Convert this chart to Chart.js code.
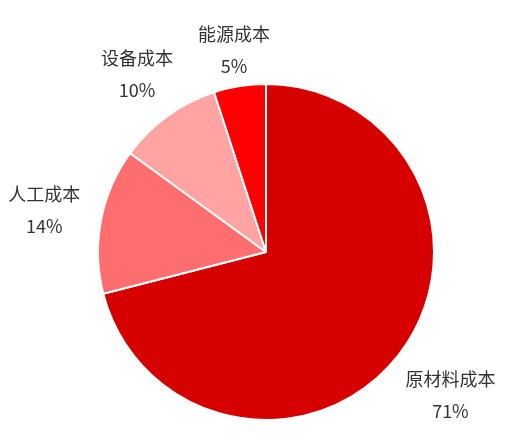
<!DOCTYPE html>
<html>
<head>
<meta charset="utf-8">
<script src="https://cdn.jsdelivr.net/npm/chart.js@4/dist/chart.umd.min.js"></script>
<style>
  html, body { margin: 0; padding: 0; background: #ffffff; }
  #wrap { width: 513px; height: 448px; position: relative; }
</style>
</head>
<body>
<div id="wrap"><canvas id="c" width="513" height="448"></canvas></div>
<script>
// Cost structure shares (%)
const categories = ['原材料成本', '人工成本', '设备成本', '能源成本'];
const shares = [71, 14, 10, 5];
const sliceColors = ['#d70000', '#ff6e6e', '#ffa3a3', '#ff0000'];

const FONT = '"Noto Sans CJK SC", "Noto Sans", sans-serif';
const FONT_SIZE = 18;
const LINE_GAP = 32;
const LABEL_GAP = 12;

// Two-line outside labels: name, then percentage, pushed clear of the rim
const outsideLabels = {
  id: 'outsideLabels',
  afterDatasetsDraw(chart) {
    const ctx = chart.ctx;
    const meta = chart.getDatasetMeta(0);
    ctx.save();
    ctx.font = FONT_SIZE + 'px ' + FONT;
    ctx.fillStyle = '#333333';
    ctx.textAlign = 'center';
    ctx.textBaseline = 'middle';
    meta.data.forEach((arc, i) => {
      const mid = (arc.startAngle + arc.endAngle) / 2;
      const ux = Math.cos(mid), uy = Math.sin(mid);
      const name = categories[i];
      const pct = shares[i] + '%';
      const w = Math.max(ctx.measureText(name).width, ctx.measureText(pct).width);
      const h = LINE_GAP + FONT_SIZE;
      const d = arc.outerRadius + LABEL_GAP + Math.abs(ux) * w * 0.6 + Math.abs(uy) * h * 0.35;
      const cx = arc.x + ux * d;
      const cy = arc.y + uy * d;
      ctx.fillText(name, cx, cy - LINE_GAP / 2);
      ctx.fillText(pct, cx, cy + LINE_GAP / 2);
    });
    ctx.restore();
  }
};

new Chart(document.getElementById('c'), {
  type: 'pie',
  data: {
    labels: categories,
    datasets: [{
      data: shares,
      backgroundColor: sliceColors,
      borderColor: '#ffffff',
      borderWidth: 2
    }]
  },
  options: {
    responsive: false,
    animation: false,
    layout: { padding: { top: 83, bottom: 27, left: 97, right: 78 } },
    plugins: {
      legend: { display: false },
      tooltip: { enabled: false }
    }
  },
  plugins: [outsideLabels]
});
</script>
</body>
</html>
